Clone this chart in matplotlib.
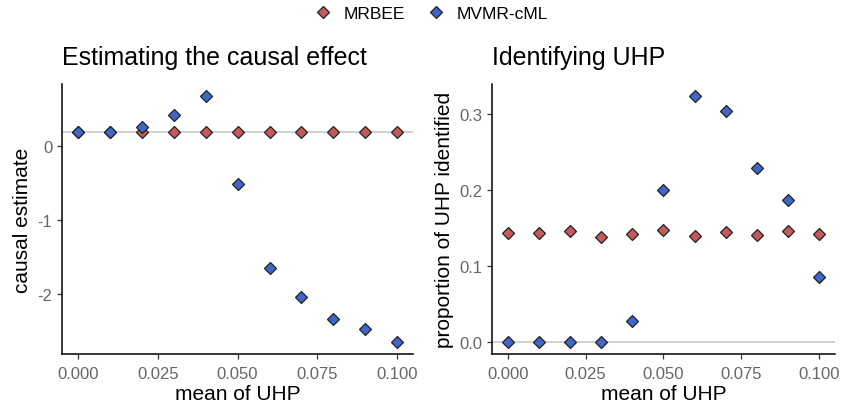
import matplotlib.pyplot as plt
from matplotlib.lines import Line2D

plt.rcParams['font.family'] = ['Liberation Sans', 'DejaVu Sans']

# datos
media_uhp = [0.00, 0.01, 0.02, 0.03, 0.04, 0.05, 0.06, 0.07, 0.08, 0.09, 0.10]

efecto_mrbee = [0.20, 0.20, 0.20, 0.20, 0.20, 0.195, 0.195, 0.195, 0.195, 0.195, 0.195]
efecto_mvmr = [0.19, 0.20, 0.26, 0.43, 0.68, -0.51, -1.65, -2.04, -2.35, -2.48, -2.65]

prop_mrbee = [0.143, 0.143, 0.146, 0.138, 0.142, 0.147, 0.139, 0.144, 0.140, 0.146, 0.142]
prop_mvmr = [0.0, 0.0, 0.0, 0.0, 0.027, 0.200, 0.323, 0.303, 0.229, 0.186, 0.085]

efecto_real = 0.2
xticks = [0.000, 0.025, 0.050, 0.075, 0.100]
xtick_labels = ['0.000', '0.025', '0.050', '0.075', '0.100']

rojo = '#c45a5a'
azul = '#3f66c9'
gris_texto = '#666666'
tam = 5.8

fig = plt.figure(figsize=(8.44, 4.10), dpi=100)
ax1 = fig.add_axes([0.0735, 0.134, 0.416, 0.659])
ax2 = fig.add_axes([0.583, 0.134, 0.406, 0.659])


def estilo(ax):
    for lado in ['top', 'right']:
        ax.spines[lado].set_visible(False)
    for lado in ['left', 'bottom']:
        ax.spines[lado].set_linewidth(1.1)
        ax.spines[lado].set_color('black')
    ax.tick_params(axis='both', labelsize=12, labelcolor=gris_texto,
                   color='#333333', length=3.5, width=0.9)
    ax.tick_params(axis='x', pad=5)
    ax.set_xticks(xticks)
    ax.set_xticklabels(xtick_labels)
    ax.set_xlim(-0.005, 0.105)
    ax.set_xlabel('mean of UHP', fontsize=15, labelpad=2)


# Panel 1: efecto causal
ax1.axhline(efecto_real, color='#d0d0d0', linewidth=1.4, zorder=1)
ax1.plot(media_uhp, efecto_mrbee, 'D', color=rojo, markeredgecolor='#222222',
         markeredgewidth=0.9, markersize=tam, zorder=3)
ax1.plot(media_uhp, efecto_mvmr, 'D', color=azul, markeredgecolor='#222222',
         markeredgewidth=0.9, markersize=tam, zorder=4)
estilo(ax1)
ax1.set_ylim(-2.82, 0.85)
ax1.set_yticks([-2, -1, 0])
ax1.set_yticklabels(['-2', '-1', '0'])
ax1.set_ylabel('causal estimate', fontsize=15, labelpad=4)
ax1.set_title('Estimating the causal effect', fontsize=18, loc='left', x=0.0, pad=14)

# Panel 2: proporcion identificada
ax2.axhline(0, color='#d0d0d0', linewidth=1.4, zorder=1)
ax2.plot(media_uhp, prop_mrbee, 'D', color=rojo, markeredgecolor='#222222',
         markeredgewidth=0.9, markersize=tam, zorder=3)
ax2.plot(media_uhp, prop_mvmr, 'D', color=azul, markeredgecolor='#222222',
         markeredgewidth=0.9, markersize=tam, zorder=4)
estilo(ax2)
ax2.set_ylim(-0.016, 0.339)
ax2.set_yticks([0.0, 0.1, 0.2, 0.3])
ax2.set_yticklabels(['0.0', '0.1', '0.2', '0.3'])
ax2.set_ylabel('proportion of UHP identified', fontsize=15, labelpad=4)
ax2.set_title('Identifying UHP', fontsize=18, loc='left', x=0.0, pad=14)

# leyenda comun arriba
handles = [
    Line2D([], [], linestyle='none', marker='D', color=rojo, markeredgecolor='#222222',
           markeredgewidth=0.9, markersize=tam, label='MRBEE'),
    Line2D([], [], linestyle='none', marker='D', color=azul, markeredgecolor='#222222',
           markeredgewidth=0.9, markersize=tam, label='MVMR-cML'),
]
fig.legend(handles=handles, loc='center', bbox_to_anchor=(0.51, 0.965), ncol=2,
           frameon=False, fontsize=12.5, handletextpad=0.6, columnspacing=1.2,
           handlelength=1.2)

fig.savefig('out.png', dpi=100)
